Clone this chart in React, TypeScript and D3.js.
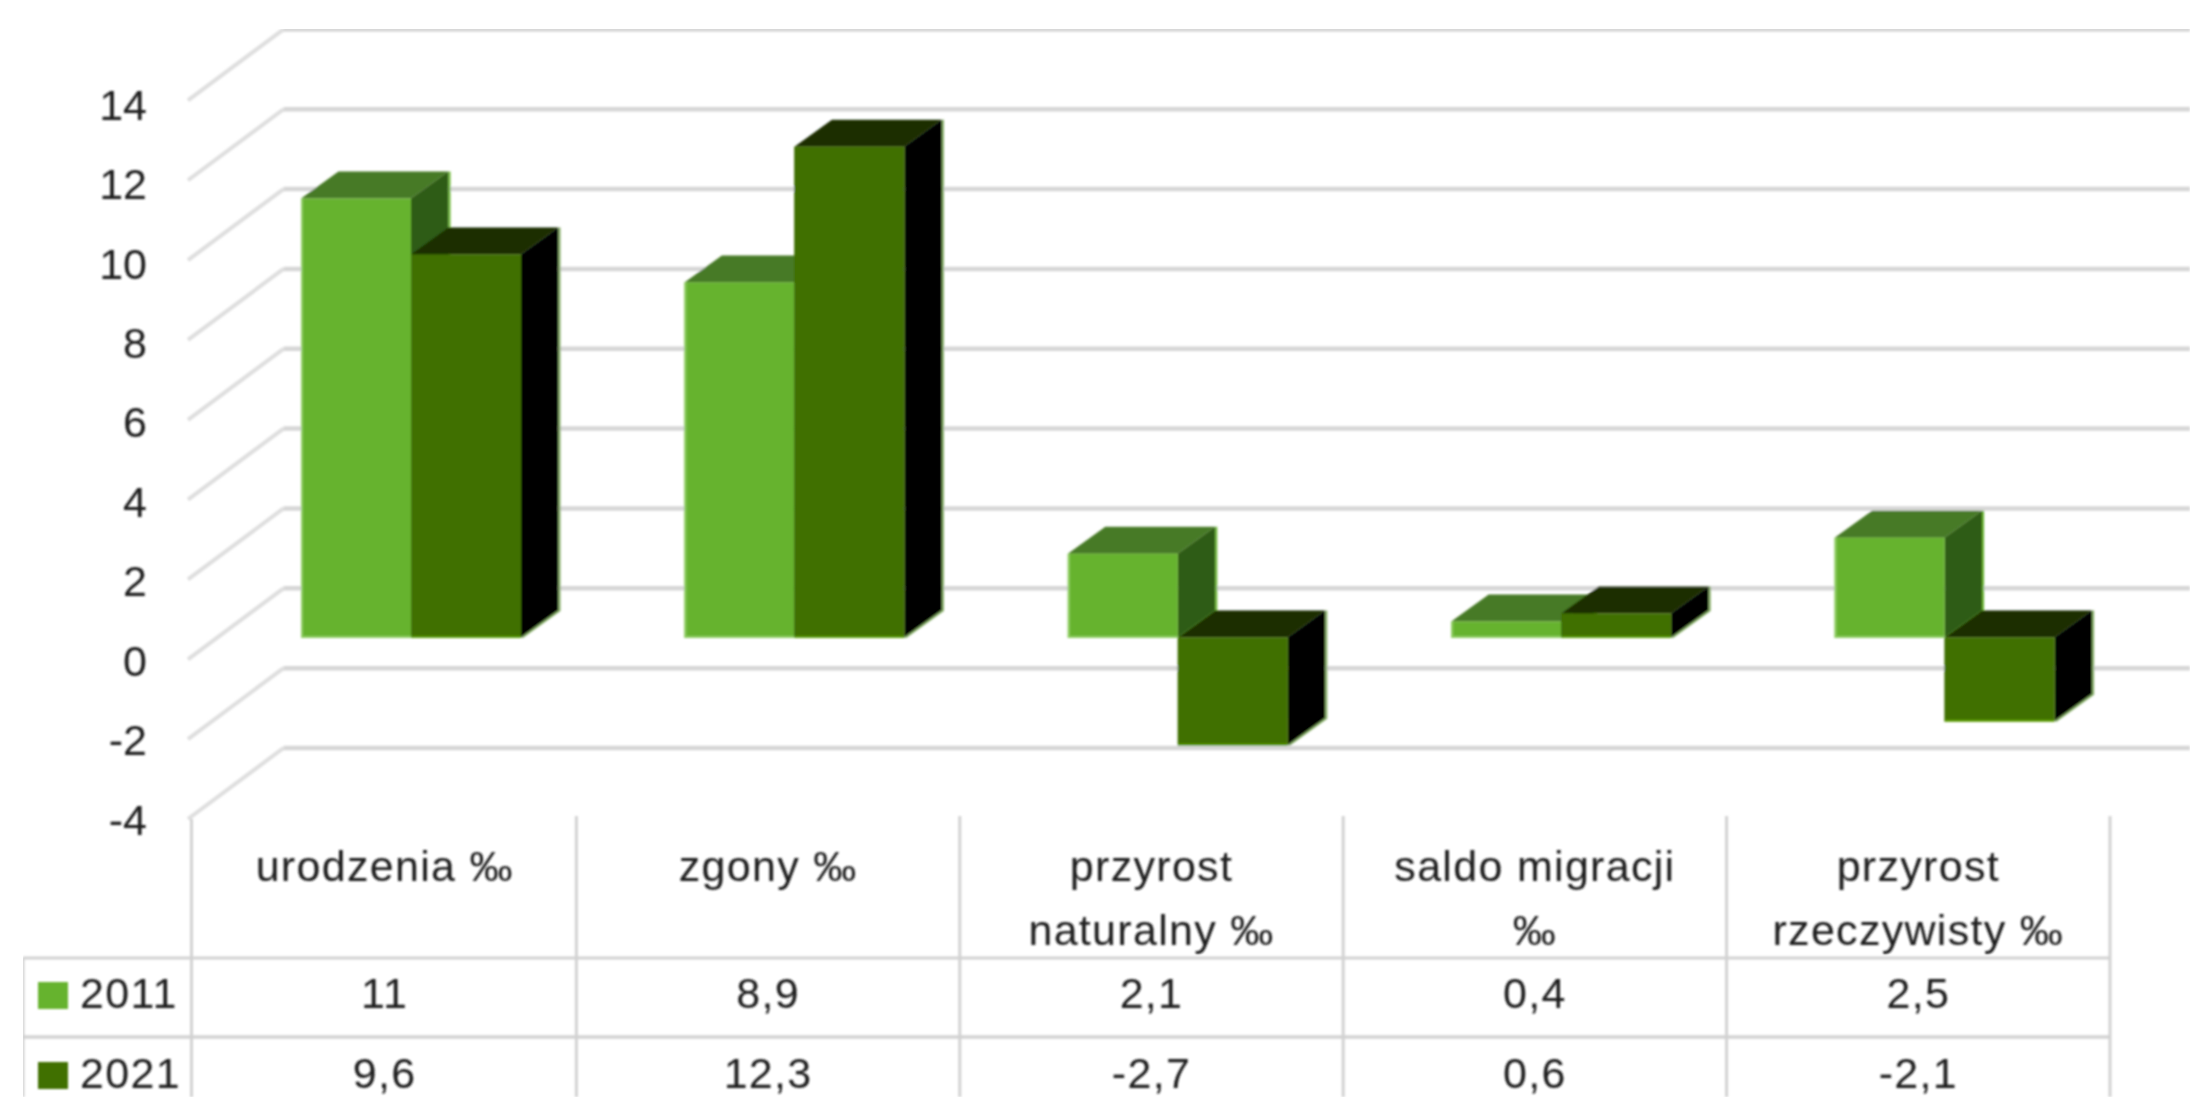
import React from "react";
import * as d3 from "d3";

const categories = [["urodzenia ‰"], ["zgony ‰"], ["przyrost", "naturalny ‰"], ["saldo migracji", "‰"], ["przyrost", "rzeczywisty ‰"]];
const series = ["2011", "2021"];
const values2011 = [11, 8.9, 2.1, 0.4, 2.5];
const values2021 = [9.6, 12.3, -2.7, 0.6, -2.1];
const labels2011 = ["11", "8,9", "2,1", "0,4", "2,5"];
const labels2021 = ["9,6", "12,3", "-2,7", "0,6", "-2,1"];
const ticks = [-4, -2, 0, 2, 4, 6, 8, 10, 12, 14];

const W = 2190, H = 1097;
const FONT = "'Liberation Sans', Arial, sans-serif";
const TEXT = "#1c1c1c";
const GRID = "#d6d6d6";

// front plane of the value axis
const yFront = d3.scaleLinear().domain([-4, 14]).range([819, 100.4]);
const yLabel = d3.scaleLinear().domain([-4, 14]).range([834.5, 119.8]);
const wall = { dx: 95.5, dy: -71 };
const frontX = 188;
// table columns
const xBand = d3.scaleBand<number>().domain(d3.range(5)).range([193, 2110]).paddingInner(0).paddingOuter(0);
// bars stand part way into the depth of the floor
const barY = d3.scaleLinear().domain([0, 1]).range([637.5, 637.5 - 39.9]);
const barDepth = { dx: 37.5, dy: -27 };
const barW = 110;
const barX0 = 108;

const faces = [
  { front: "#66b32e", top: "#477a25", side: "#2f5b17", low: "#8fce62", left: "#8fce62", edge: "#66b32e" },
  { front: "#3f6f00", top: "#1a2e00", side: "#000000", low: "#5c9e08", left: "#3f6f00", edge: "#7fa95f" },
];

function Bar({ x, v, f }: { x: number; v: number; f: (typeof faces)[number] }) {
  const y1 = barY(Math.max(v, 0));
  const y2 = barY(Math.min(v, 0));
  const { dx, dy } = barDepth;
  const p = (pts: number[][]) => d3.line()(pts as [number, number][]) + "Z";
  return (
    <g>
      <path d={p([[x, y1], [x + dx, y1 + dy], [x + barW + dx, y1 + dy], [x + barW, y1]])} fill={f.top} />
      <path d={p([[x + barW, y1], [x + barW + dx, y1 + dy], [x + barW + dx, y2 + dy], [x + barW, y2]])} fill={f.side} />
      <rect x={x} y={y1} width={barW} height={y2 - y1} fill={f.front} />
      <line x1={x + 1} x2={x + 1} y1={y1} y2={y2} stroke={f.left} strokeWidth={2} />
      <line x1={x} x2={x + barW} y1={y2 - 0.5} y2={y2 - 0.5} stroke={f.low} strokeWidth={2} />
      <path d={d3.line()([[x + barW + dx + 1, y1 + dy], [x + barW + dx + 1, y2 + dy], [x + barW + 1, y2]] as [number, number][]) as string} fill="none" stroke={f.edge} strokeWidth={2} />
    </g>
  );
}

export default function App() {
  const tableLeft = 23;
  const rowA = 958, rowB = 1037;
  const tableText = { fontFamily: FONT, fontSize: 43, fill: TEXT, textAnchor: "middle" as const, letterSpacing: 1.3 };
  return (
    <svg width={W} height={H} viewBox={`0 0 ${W} ${H}`} style={{ position: "absolute", left: 0, top: 0, background: "#fff" }}>
      <defs>
        <filter id="soft" x="0" y="0" width="100%" height="100%">
          <feGaussianBlur stdDeviation="1" />
        </filter>
      </defs>
      <rect width={W} height={H} fill="#fff" />
      <g filter="url(#soft)">
        {ticks.map((t) => {
          const y = yFront(t);
          return (
            <g key={t}>
              <path d={`M${frontX},${y}L${frontX + wall.dx},${y + wall.dy}`} fill="none" stroke="#dedede" strokeWidth={4} />
              <line x1={frontX + wall.dx} x2={W} y1={y + wall.dy} y2={y + wall.dy} stroke={GRID} strokeWidth={4.5} />
              <text x={147} y={yLabel(t)} textAnchor="end" fontFamily={FONT} fontSize={43} fill={TEXT}>{t}</text>
            </g>
          );
        })}
        {values2011.map((v, i) => {
          const x = xBand(i)! + barX0;
          return (
            <g key={i}>
              <Bar x={x} v={v} f={faces[0]} />
              <Bar x={x + barW} v={values2021[i]} f={faces[1]} />
            </g>
          );
        })}

        {/* data table */}
        <g stroke="#d2d2d2" strokeWidth={3}>
          <line x1={tableLeft} x2={2110} y1={rowA} y2={rowA} />
          <line x1={tableLeft} x2={2110} y1={rowB} y2={rowB} strokeWidth={3.5} />
          <line x1={tableLeft} x2={tableLeft} y1={rowA} y2={H} />
          {d3.range(6).map((i) => {
            const x = i === 0 ? 191.5 : i < 5 ? xBand(i)! : 2110;
            return <line key={i} x1={x} x2={x} y1={i === 0 ? 819 : 816} y2={H} />;
          })}
        </g>
        {categories.map((lines, i) => {
          const cx = xBand(i)! + xBand.bandwidth() / 2;
          return (
            <g key={i}>
              {lines.map((l, j) => (
                <text key={j} x={cx} y={881 + j * 64} {...tableText}>{l}</text>
              ))}
              <text x={cx} y={1008} {...tableText}>{labels2011[i]}</text>
              <text x={cx} y={1088} {...tableText}>{labels2021[i]}</text>
            </g>
          );
        })}
        {series.map((s, i) => (
          <g key={s}>
            <rect x={38} y={982 + i * 80} width={30} height={27} fill={faces[i].front} />
            <text x={80} y={1008 + i * 80} fontFamily={FONT} fontSize={43} fill={TEXT} letterSpacing={1.3}>{s}</text>
          </g>
        ))}
      </g>
    </svg>
  );
}
